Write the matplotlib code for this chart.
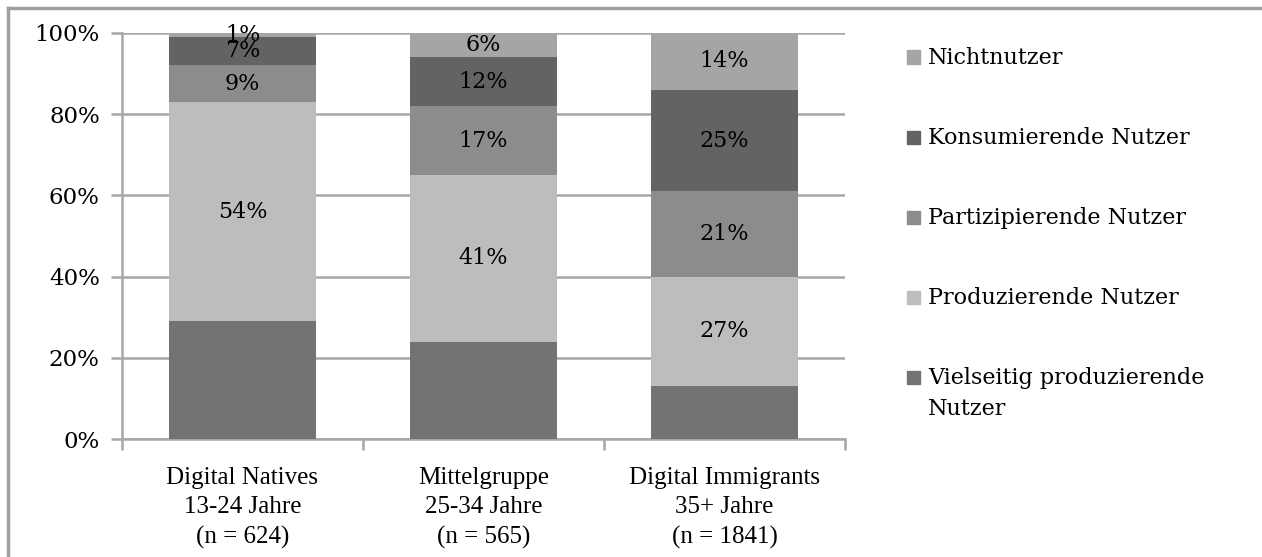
import matplotlib.pyplot as plt
from matplotlib.lines import Line2D
from matplotlib.patches import Rectangle

plt.rcParams['font.family'] = ['DejaVu Serif']

categories = ['Digital Natives\n13-24 Jahre\n(n = 624)',
              'Mittelgruppe\n25-34 Jahre\n(n = 565)',
              'Digital Immigrants\n35+ Jahre\n(n = 1841)']

# Anteile in % (von unten nach oben gestapelt)
vielseitig = [29, 24, 13]
produzierend = [54, 41, 27]
partizipierend = [9, 17, 21]
konsumierend = [7, 12, 25]
nichtnutzer = [1, 6, 14]

series = [
    ('Vielseitig produzierende\nNutzer', vielseitig, '#737373', False),
    ('Produzierende Nutzer', produzierend, '#bdbdbd', True),
    ('Partizipierende Nutzer', partizipierend, '#8c8c8c', True),
    ('Konsumierende Nutzer', konsumierend, '#636363', True),
    ('Nichtnutzer', nichtnutzer, '#a5a5a5', True),
]

W, H = 1262, 557
fig = plt.figure(figsize=(W / 100, H / 100), dpi=100)
ax = fig.add_axes([122 / W, 1 - 439 / H, (845 - 122) / W, (439 - 33) / H])

x = range(len(categories))
bottom = [0, 0, 0]
for name, vals, col, show in series:
    ax.bar(x, vals, bottom=bottom, width=0.61, color=col, zorder=3)
    if show:
        for i, v in enumerate(vals):
            ax.text(i, bottom[i] + v / 2, f'{v}%', ha='center', va='center',
                    fontsize=16, color='black', zorder=4)
    bottom = [bottom[i] + vals[i] for i in range(len(vals))]

ax.set_xlim(-0.5, 2.5)
ax.set_ylim(0, 100)
ax.set_yticks(range(0, 101, 20))
ax.set_yticklabels([f'{t}%' for t in range(0, 101, 20)], fontsize=16.5)
ax.yaxis.grid(True, color='#a6a6a6', linewidth=1.8, zorder=0)
ax.set_axisbelow(True)

ax.set_xticks([-0.5, 0.5, 1.5, 2.5])
ax.set_xticklabels([])
ax.set_xticks(list(x), minor=True)
ax.set_xticklabels(categories, minor=True, fontsize=18, linespacing=1.45,
                   family='Liberation Serif')
ax.tick_params(axis='x', which='minor', length=0, pad=20)
ax.tick_params(axis='x', which='major', length=8, width=1.8, color='#a6a6a6', direction='out')
ax.tick_params(axis='y', length=8, width=1.8, color='#a6a6a6', pad=8)

for s in ['top', 'right']:
    ax.spines[s].set_visible(False)
for s in ['left', 'bottom']:
    ax.spines[s].set_color('#a6a6a6')
    ax.spines[s].set_linewidth(1.8)

# Legende (oben nach unten in umgekehrter Stapelreihenfolge)
for k, (name, vals, col, show) in enumerate(series[::-1]):
    yc = 1 - (57 + 80 * k) / H
    fig.add_artist(Rectangle((907 / W, yc - 6.5 / H), 13 / W, 13 / H,
                             transform=fig.transFigure, color=col))
    fig.text(928 / W, yc + 10 / H, name, ha='left', va='top', fontsize=16,
             linespacing=1.55)

# Rahmen links und oben
fig.add_artist(Line2D([0.0065, 0.0065], [0, 0.986], transform=fig.transFigure,
                      color='#a0a0a0', linewidth=2.5))
fig.add_artist(Line2D([0.0065, 1], [0.986, 0.986], transform=fig.transFigure,
                      color='#a0a0a0', linewidth=2.5))

plt.savefig('out.png', dpi=100)
